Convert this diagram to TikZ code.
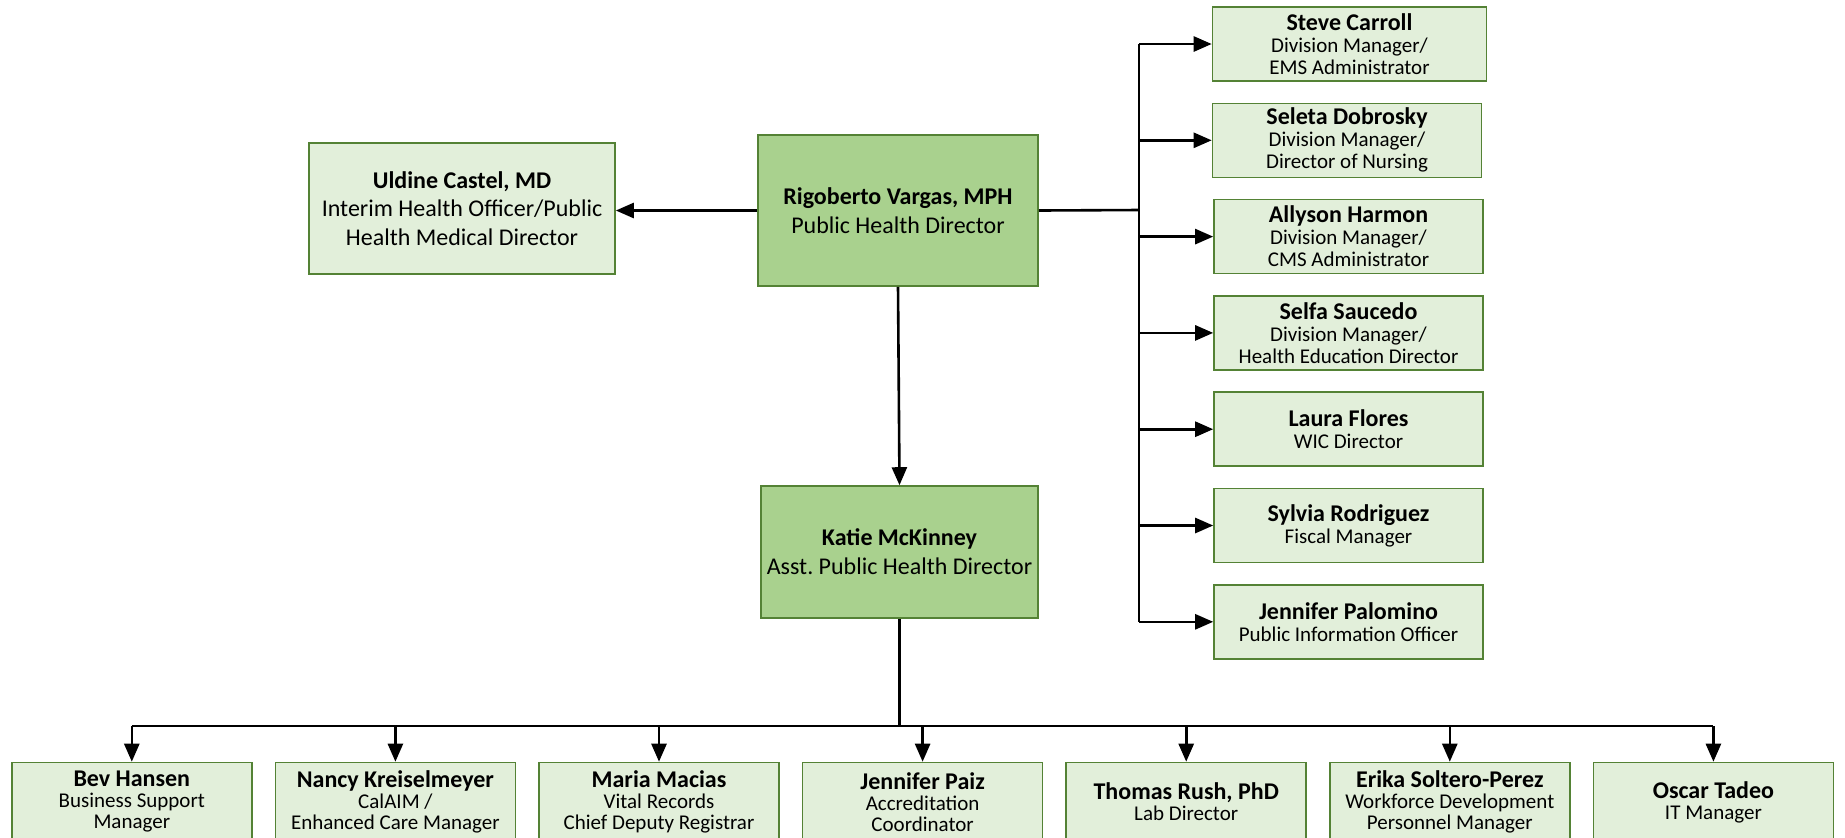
\documentclass[tikz,border=0pt]{standalone}
\usepackage{fontspec}
\setmainfont{Carlito}
\frenchspacing
\usetikzlibrary{arrows.meta,positioning}
\definecolor{boxgreen}{HTML}{E2EFDA}
\definecolor{headgreen}{HTML}{A9D18E}
\definecolor{edgegreen}{HTML}{548235}
\def\pname#1{{\fontsize{12}{11}\selectfont\bfseries #1}}
\tikzset{
  staff/.style={draw=edgegreen, line width=0.8pt, fill=boxgreen, align=center,
    inner sep=0pt, font=\fontsize{10.5}{11}\selectfont},
  side/.style={staff, minimum width=134.5pt, minimum height=37pt},
  low/.style={staff, minimum width=120pt, minimum height=39.5pt, font=\fontsize{10.5}{10.5}\selectfont},
  head/.style={staff, fill=headgreen, font=\fontsize{12}{14.4}\selectfont},
  link/.style={line width=1.3pt},
  arr/.style={link, -{Triangle[length=9pt,width=7.5pt]}}
}

\begin{document}
\begin{tikzpicture}[x=0.5pt,y=-0.5pt]
\useasboundingbox (0,0) rectangle (1845,837);
\clip (0,0) rectangle (1845,837);
% directors
\node[head, minimum width=140pt, minimum height=75.5pt] (rig) at (898,210.5)
  {{\bfseries Rigoberto Vargas, MPH}\\Public Health Director};
\node[staff, font=\fontsize{12}{14.4}\selectfont, minimum width=153pt, minimum height=65.5pt] (uld) at (462,208.5)
  {{\bfseries Uldine Castel, MD}\\Interim Health Officer/Public\\Health Medical Director};
\node[head, minimum width=138.5pt, minimum height=66pt] (kat) at (899.5,552)
  {{\bfseries Katie McKinney}\\Asst. Public Health Director};
% right column
\node[side, minimum width=137pt] (car) at (1349.5,44) {\pname{Steve Carroll}\\Division Manager/\\EMS Administrator};
\node[side] (dob) at (1347,140.3) {\pname{Seleta Dobrosky}\\Division Manager/\\Director of Nursing};
\node[side] (har) at (1348.5,236.6) {\pname{Allyson Harmon}\\Division Manager/\\CMS Administrator};
\node[side] (sau) at (1348.5,332.9) {\pname{Selfa Saucedo}\\Division Manager/\\Health Education Director};
\node[side] (flo) at (1348.5,429.2) {\pname{Laura Flores}\\WIC Director};
\node[side] (rod) at (1348.5,525.5) {\pname{Sylvia Rodriguez}\\Fiscal Manager};
\node[side] (pal) at (1348.5,621.8) {\pname{Jennifer Palomino}\\Public Information Officer};
% bottom row
\node[low] (han) at (131.8,802) {\pname{Bev Hansen}\\Business Support\\Manager};
\node[low] (kre) at (395.4,802) {\pname{Nancy Kreiselmeyer}\\CalAIM /\\Enhanced Care Manager};
\node[low] (mac) at (659,802) {\pname{Maria Macias}\\Vital Records\\Chief Deputy Registrar};
\node[low] (pai) at (922.6,802) {\pname{Jennifer Paiz}\\Accreditation\\Coordinator};
\node[low] (rus) at (1186.2,802) {\pname{Thomas Rush, PhD}\\Lab Director};
\node[low] (sol) at (1449.8,802) {\pname{Erika Soltero-Perez}\\Workforce Development\\Personnel Manager};
\node[low] (tad) at (1713.4,802) {\pname{Oscar Tadeo}\\IT Manager};
% connectors
\coordinate (trunk) at (1139,210);
\coordinate (bus) at (900,726);
\draw[arr] (rig.west) -- (rig.west -| uld.east);
\draw[arr] (rig.south) -- (kat.north);
\draw[link] (rig.east) -- (trunk);
\draw[link] (car.west -| trunk) -- (pal.west -| trunk);
\foreach \n in {car,dob,har,sau,flo,rod,pal}
  \draw[arr] (\n.west -| trunk) -- (\n.west);
\draw[link] (kat.south) -- (kat.south |- bus);
\draw[link] (han.north |- bus) -- (tad.north |- bus);
\foreach \n in {han,kre,mac,pai,rus,sol,tad}
  \draw[arr] (\n.north |- bus) -- (\n.north);
\end{tikzpicture}
\end{document}
